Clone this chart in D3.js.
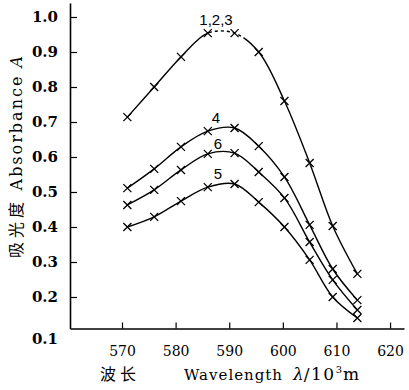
<!DOCTYPE html>
<html>
<head>
<meta charset="utf-8">
<script src="https://cdn.jsdelivr.net/npm/d3@7"></script>
<style>
  body { margin: 0; background: #fff; }
  svg { display: block; }
  .serif { font-family: "DejaVu Serif", "Liberation Serif", serif; }
  .cjk { font-family: "Noto Sans CJK SC", sans-serif; }
  .sans { font-family: "Liberation Sans", Arial, sans-serif; }
</style>
</head>
<body>
<div id="chart"></div>
<script>
// wavelength (nm) of the measured points
const wavelengths = [571, 576, 581, 586, 591, 595.5, 600.3, 605, 609.3, 613.9];
// absorbance readings per curve
const abs123 = [0.714, 0.80, 0.886, 0.954, 0.954, 0.90, 0.76, 0.583, 0.403, 0.266];
const abs4 = [0.511, 0.566, 0.629, 0.674, 0.683, 0.631, 0.543, 0.406, 0.28, 0.191];
const abs6 = [0.463, 0.506, 0.563, 0.609, 0.611, 0.557, 0.483, 0.357, 0.249, 0.163];
const abs5 = [0.40, 0.429, 0.474, 0.514, 0.523, 0.471, 0.40, 0.306, 0.20, 0.14];
const xTicks = [570, 580, 590, 600, 610, 620];
const yTicks = [0.2, 0.3, 0.4, 0.5, 0.6, 0.7, 0.8, 0.9, 1.0];

const series = [
  { name: '1,2,3', values: abs123, labelAt: [216, 25] },
  { name: '4', values: abs4, labelAt: [216, 123] },
  { name: '6', values: abs6, labelAt: [218, 149] },
  { name: '5', values: abs5, labelAt: [218, 179] }
];

const width = 409, height = 390;

const svg = d3.select('#chart').append('svg')
  .attr('width', width)
  .attr('height', height);

const x = d3.scaleLinear().domain([560.3, 622.6]).range([70, 404]);
const y = d3.scaleLinear().domain([0.11, 1.04]).range([328.5, 3]);

// axes, ticks point inward
const xAxis = svg.append('g')
  .attr('transform', `translate(0,${y(0.11)})`)
  .call(d3.axisBottom(x).tickValues(xTicks).tickSizeInner(-6).tickSizeOuter(0).tickPadding(18).tickFormat(d3.format('d')));
xAxis.attr('font-family', null);
xAxis.select('.domain').attr('stroke', '#000').attr('stroke-width', 1.6);
xAxis.selectAll('.tick line').attr('stroke', '#000').attr('stroke-width', 1.2);
xAxis.selectAll('.tick text')
  .attr('class', 'serif')
  .attr('font-size', 14)
  .attr('fill', '#000');

const yAxis = svg.append('g')
  .attr('transform', `translate(${x(560.3)},0)`)
  .call(d3.axisLeft(y).tickValues(yTicks).tickSizeInner(-7).tickSizeOuter(0).tickPadding(12).tickFormat(d3.format('.1f')));
yAxis.attr('font-family', null);
yAxis.select('.domain').attr('stroke', '#000').attr('stroke-width', 1.6);
yAxis.selectAll('.tick line').attr('stroke', '#000').attr('stroke-width', 1.2);
yAxis.selectAll('.tick text')
  .attr('class', 'serif')
  .attr('font-size', 15)
  .attr('font-weight', 'bold')
  .attr('fill', '#000');

// the 0.1 label sits a little below the x axis
svg.append('text')
  .attr('class', 'serif')
  .attr('x', x(560.3) - 12)
  .attr('y', y(0.11) + 15)
  .attr('text-anchor', 'end')
  .attr('font-size', 15)
  .attr('font-weight', 'bold')
  .text('0.1');

// axis titles
const xTitle = svg.append('text')
  .attr('y', 380)
  .attr('font-size', 15);
xTitle.append('tspan').attr('class', 'cjk').attr('x', 100).attr('font-size', 16).attr('letter-spacing', 4).text('波长');
xTitle.append('tspan').attr('class', 'serif').attr('x', 184).attr('letter-spacing', 1).text('Wavelength');
xTitle.append('tspan').attr('class', 'serif').attr('x', 293).attr('font-size', 17).attr('font-style', 'italic').text('λ');
xTitle.append('tspan').attr('class', 'serif').attr('font-size', 17).attr('letter-spacing', 1.5).text('/10');
xTitle.append('tspan').attr('class', 'serif').attr('font-size', 10).attr('dy', -7).text('3');
xTitle.append('tspan').attr('class', 'serif').attr('font-size', 17).attr('dy', 7).attr('dx', 1).text('m');

const yTitle = svg.append('text')
  .attr('transform', 'translate(22,157) rotate(-90)')
  .attr('text-anchor', 'middle')
  .attr('font-size', 16);
yTitle.append('tspan').attr('class', 'cjk').attr('letter-spacing', 4).text('吸光度 ');
yTitle.append('tspan').attr('class', 'serif').attr('letter-spacing', 2).text('Absorbance ');
yTitle.append('tspan').attr('class', 'serif').attr('font-style', 'italic').text('A');

// curves
const line = d3.line()
  .x((d, i) => x(wavelengths[i]))
  .y(d => y(d))
  .curve(d3.curveCatmullRom.alpha(0.5));

series.forEach((s, si) => {
  const path = svg.append('path')
    .datum(s.values)
    .attr('d', line)
    .attr('fill', 'none')
    .attr('stroke', '#000')
    .attr('stroke-width', 1.4);

  if (si === 0) {
    // dashed stretch across the top of curve 1,2,3
    const node = path.node();
    const total = node.getTotalLength();
    const findLen = px => {
      let best = 0, bd = Infinity;
      for (let l = 0; l <= total; l += 0.5) {
        const p = node.getPointAtLength(l);
        const dd = Math.abs(p.x - px);
        if (dd < bd) { bd = dd; best = l; }
      }
      return best;
    };
    const l0 = findLen(x(wavelengths[3]) + 4);
    const l1 = findLen(x(wavelengths[4]) + 9);
    const dash = [l0];
    let l = l0;
    while (l + 6 < l1) { dash.push(3, 3); l += 6; }
    dash.push(l1 - l, total);
    path.attr('stroke-dasharray', dash.join(' '));
  }

  // x markers
  svg.append('g').selectAll('path')
    .data(s.values)
    .join('path')
    .attr('transform', (d, i) => `translate(${x(wavelengths[i])},${y(d)})`)
    .attr('d', 'M-4,-4L4,4M-4,4L4,-4')
    .attr('stroke', '#000')
    .attr('stroke-width', 1.3);

  svg.append('text')
    .attr('class', 'sans')
    .attr('x', s.labelAt[0])
    .attr('y', s.labelAt[1])
    .attr('text-anchor', 'middle')
    .attr('font-size', 15)
    .text(s.name);
});
</script>
</body>
</html>
